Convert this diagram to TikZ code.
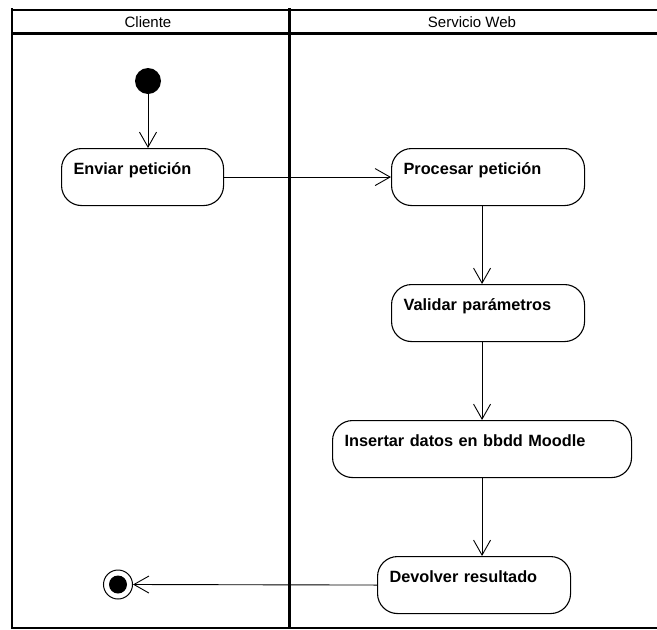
\documentclass[tikz,border=0pt]{standalone}
\usepackage{fontspec}
\setmainfont{Liberation Sans}
\usetikzlibrary{arrows.meta}
\begin{document}
\begin{tikzpicture}[x=1pt,y=-1pt,
  lane/.style={line width=1.3pt},
  laneheavy/.style={line width=3pt},
  lanetitle/.style={font=\fontsize{15}{17}\selectfont, inner sep=0pt},
  act/.style={draw, line width=1.1pt, rounded corners=20pt, anchor=north west,
    font=\bfseries\fontsize{16.3}{19}\selectfont, align=left,
    inner xsep=12pt, inner ysep=13pt, text height=12.5pt, text depth=18.5pt},
  flow/.style={line width=0.9pt, -{Straight Barb[length=15pt,width=17pt,line width=0.9pt]}},
  startdot/.style={circle, fill=black, minimum size=26pt, inner sep=0pt},
  enddot/.style={circle, draw, line width=1pt, minimum size=29pt, inner sep=0pt,
    path picture={\fill[black] (path picture bounding box.center) circle (9pt);}}
]
\useasboundingbox (0,0) rectangle (657,630);

% swimlane frame
\draw[lane] (12,10) -- (657,10);
\draw[laneheavy] (12,33) -- (657,33);
\draw[lane] (12,8) -- (12,628) -- (657,628);
\draw[laneheavy] (289,8) -- (289,628);
\node[lanetitle] (lcli) at (148,22) {Cliente};
\node[lanetitle] (lsrv) at (472,22) {Servicio Web};

% activities
\node[startdot] (start) at (148,81) {};
\node[act, text width=138pt] (env) at (61,148) {Enviar petición};
\node[act, text width=169pt] (proc) at (391,148) {Procesar petición};
\node[act, text width=169pt] (val) at (391,284) {Validar parámetros};
\node[act, text width=275pt] (ins) at (332,420) {Insertar datos en bbdd Moodle};
\node[act, text width=169pt] (dev) at (377,556) {Devolver resultado};
\node[enddot] (fin) at (118,584.5) {};

% transitions
\draw[flow] (start) -- (start |- env.north);
\draw[flow] (env.east) -- (env.east -| proc.west);
\draw[flow] (proc.south -| ins.south) -- (val.north -| ins.south);
\draw[flow] (val.south -| ins.south) -- (ins.north);
\draw[flow] (ins.south) -- (dev.north -| ins.south);
\draw[flow] (dev.west) -- (fin.east);
\end{tikzpicture}
\end{document}
